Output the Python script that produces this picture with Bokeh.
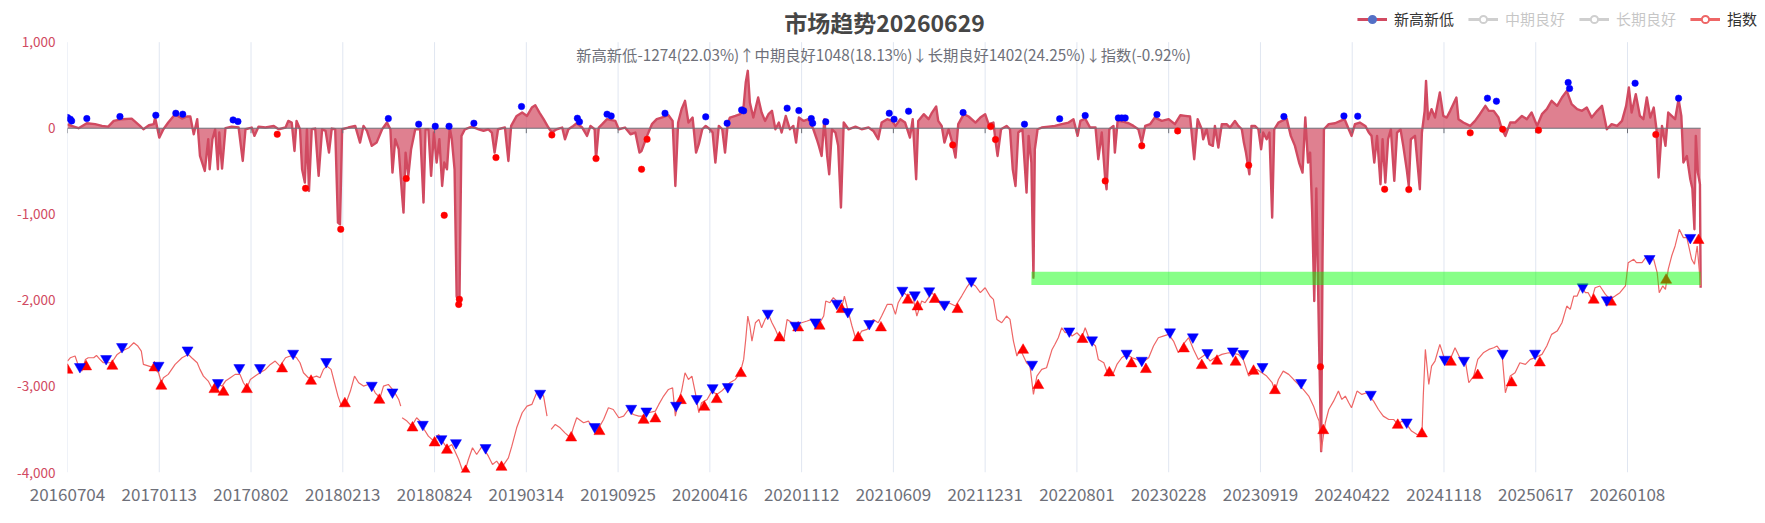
from bokeh.plotting import figure
from bokeh.models import (Range1d, FixedTicker, NumeralTickFormatter, Label,
                          Legend, LegendItem)
from bokeh.embed import file_html
from bokeh.resources import INLINE

NaN = float("nan")

# ---------------- data (x = trading-day index, y = value) ----------------
tick_labels = ["20160704", "20170113", "20170802", "20180213", "20180824",
               "20190314", "20190925", "20200416", "20201112", "20210609",
               "20211231", "20220801", "20230228", "20230919", "20240422",
               "20241118", "20250617", "20260108"]
tick_idx = [0, 133, 266, 399, 532, 665, 798, 931, 1064, 1197, 1330, 1463,
            1596, 1729, 1862, 1995, 2128, 2261]
y_ticks = [1000, 0, -1000, -2000, -3000, -4000]

nhnl_idx = [0, 6, 16, 28, 40, 50, 59, 67, 79, 93, 105, 110, 118, 125, 127, 133, 139, 146, 156, 166, 173, 178, 183, 188, 192, 199, 204, 206, 210, 214, 218, 220, 224, 229, 238, 248, 254, 258, 267, 271, 277, 287, 299, 306, 316, 320, 325, 329, 332, 337, 340, 344, 347, 350, 354, 359, 364, 369, 374, 379, 383, 388, 392, 395,
            398, 407, 417, 424, 429, 434, 441, 448, 456, 463, 468, 471, 475, 480, 485, 487, 490, 494, 498, 504, 511, 516, 519, 523, 527, 531, 535, 539, 543, 546, 550, 554, 557, 561, 564, 568, 571, 576, 586, 596, 603, 610, 615, 619, 624, 634, 639, 643, 651, 659, 666, 673, 678, 684, 690, 697, 702, 709, 717, 721, 726, 733, 738, 746, 753, 758, 764, 766, 770, 775, 782, 794, 799,
            808, 816, 823, 829, 832, 840, 847, 854, 861, 871, 877, 881, 885, 890, 895, 900, 906, 911, 915, 920, 925, 931, 935, 939, 944, 949, 953, 957, 960, 968, 975, 980, 983, 986, 989, 994, 1001, 1006, 1011, 1016, 1021, 1026, 1031, 1035, 1041, 1047, 1052, 1056, 1060, 1067, 1074, 1081, 1086, 1089, 1093, 1097, 1101, 1104, 1108, 1113, 1117, 1121, 1125, 1132, 1142, 1151, 1161, 1168, 1175, 1180, 1188, 1195,
            1200, 1207, 1214, 1221, 1225, 1230, 1233, 1241, 1248, 1253, 1259, 1262, 1267, 1271, 1277, 1283, 1287, 1291, 1299, 1306, 1316, 1323, 1330, 1335, 1342, 1345, 1348, 1353, 1361, 1366, 1370, 1374, 1378, 1384, 1390, 1393, 1397, 1400, 1402, 1406, 1412, 1422, 1431, 1441, 1451, 1458, 1464, 1468, 1475, 1482, 1490, 1494, 1499, 1504, 1506, 1510, 1516, 1518, 1522, 1531, 1538, 1545, 1552, 1557, 1562, 1569, 1576, 1586, 1596, 1605,
            1613, 1620, 1627, 1633, 1638, 1644, 1646, 1651, 1655, 1660, 1663, 1668, 1673, 1680, 1685, 1692, 1697, 1702, 1705, 1708, 1713, 1716, 1721, 1726, 1730, 1733, 1738, 1742, 1746, 1749, 1755, 1760, 1767, 1773, 1779, 1785, 1790, 1794, 1798, 1801, 1804, 1807, 1810, 1814, 1817, 1819, 1821, 1828, 1837, 1845, 1851, 1857, 1861, 1866, 1873, 1881, 1886, 1890, 1894, 1898, 1903, 1906, 1910, 1914, 1918, 1923, 1927, 1932, 1936, 1941, 1944, 1947, 1953, 1960, 1963, 1967, 1969, 1972, 1977, 1982, 1989, 1994, 1999, 2004, 2013,
            2016, 2023, 2033, 2040, 2047, 2055, 2060, 2067, 2074, 2079, 2084, 2091, 2098, 2108, 2115, 2122, 2130, 2137, 2144, 2151, 2159, 2166, 2173, 2180, 2188, 2195, 2202, 2209, 2217, 2224, 2231, 2238, 2246, 2253, 2259, 2263, 2267, 2273, 2279, 2284, 2289, 2294, 2299, 2303, 2306, 2311, 2316, 2320, 2325, 2330, 2335, 2339, 2342, 2347, 2352, 2355, 2358, 2360, 2363, 2366, 2367]
nhnl_val = [47, 27, 0, 58, 47, 27, 19, 85, 105, 112, 27, -12, 35, 47, 124, -109, -12, 66, 163, 112, 136, 136, -70, 105, -322, -496, -128, -477, -128, -12, -477, -50, -469, 0, 19, 8, -380, -12, 8, -89, 19, 8, 27, -12, 8, 85, 66, -264, 85, -12, -477, -632, -12, -729, -12, -4, -554, -12, -31, -283, -4, -12, -1097, -1116,
            -12, 8, 27, -167, 27, -31, -205, -167, -12, 66, -12, -516, -128, -244, -787, -981, -283, -554, -244, -12, -12, -864, -12, -12, -554, -50, -399, -128, -671, -399, -477, 8, -128, -477, -1950, -2066, -89, -12, 19, -12, -31, -12, -50, -283, -12, 8, -380, 27, 143, 182, 143, 240, 267, 182, 105, 8, -50, -12, 8, -128, -12, 27, 58, 8, -89, 27, -12, -360, 8, 47, 105, 85, -12,
            8, -70, -50, -283, -264, -89, 47, 105, 124, 151, 85, -671, 66, 221, 318, 66, 124, -283, -186, -12, 27, -12, -50, -399, 27, -12, -283, 58, 124, 143, 163, 260, 531, 667, 298, 124, 357, 182, 85, 163, 202, -12, 66, -50, 143, -12, 27, -167, 124, 85, 105, -12, -128, -205, -322, 105, -322, -535, -12, -50, -205, -922, 66, -12, 19, -12, 8, -31, -128, 66, 105, 85,
            27, 105, 66, -109, 105, -593, 85, 163, 105, 182, 252, 85, 27, -167, -12, -186, -341, 47, 163, 136, 66, 124, 163, 47, 66, -147, -322, -12, 27, -12, -477, -671, -50, -12, -748, -89, -399, -1736, -244, -12, 8, 19, 27, 47, 66, 105, -89, 85, 112, 8, 8, -360, -50, -593, -709, -12, 27, -283, 85, 74, 58, 27, -12, -167, 27, 47, 124, 85, 105, 47,
            151, 143, 136, -360, 105, -12, -128, -12, -186, -205, 27, -225, 47, 47, 8, 85, 27, -12, -167, -283, -535, 27, 27, -12, -244, -50, -128, -50, -1039, -12, 66, 85, 112, -89, -205, -399, -516, 124, -399, -283, -981, -2008, -700, -2500, -3752, -1500, -12, 47, 58, 85, 105, -12, -89, 47, 66, 27, -50, -89, -399, -89, -651, -128, -632, -128, -12, -612, -50, -12, -205, -477, -671, -128, -89, -709, -50, 202, 550, 105, 221, 124, 415, 143, 124, 202, 357,
            105, 66, 27, 85, 163, 260, 202, 202, 124, -12, -89, 66, 66, 143, 105, 182, 27, 163, 221, 318, 260, 357, 434, 279, 221, 202, 240, 124, 202, 260, -12, 47, 27, 85, 260, 473, 182, 395, 143, 105, 357, 124, 240, -12, -573, 27, -205, 182, 143, 105, 337, 143, -399, -322, -593, -700, -1174, -89, -516, -651, -1853]

index_idx = [0, 4, 11, 16, 21, 26, 30, 38, 42, 47, 52, 59, 64, 72, 79, 89, 96, 102, 107, 110, 118, 125, 132, 136, 139, 146, 156, 166, 175, 180, 188, 192, 197, 204, 209, 214, 219, 224, 229, 236, 243, 250, 255, 260, 265, 272, 279, 287, 294, 301, 308, 316, 323, 328, 332, 337, 342, 349, 354, 361, 366, 371, 376, 382, 387, 392, 397, 403,
             410, 416, 422, 429, 436, 441, 446, 453, 458, 465, 473, 480, 483, 484, 485, 492, 499, 506, 511, 517, 523, 531, 538, 545, 550, 557, 567, 572, 576, 581, 587, 593, 601, 610, 616, 622, 629, 634, 639, 644, 651, 659, 666, 673, 680, 685, 690, 695, 698, 701, 707, 714, 721, 729, 733, 738, 748, 755, 762, 770, 777, 784, 791, 799, 806,
             813, 820, 828, 835, 842, 852, 857, 864, 871, 877, 881, 886, 890, 895, 900, 905, 910, 915, 919, 927, 934, 941, 948, 953, 960, 968, 975, 980, 983, 986, 989, 992, 997, 1002, 1006, 1011, 1016, 1021, 1026, 1031, 1038, 1043, 1050, 1055, 1064, 1072, 1079, 1089, 1096, 1099, 1105, 1110, 1117, 1122, 1126, 1132, 1137, 1142, 1146, 1151, 1159, 1163, 1168, 1175, 1180, 1188, 1195,
             1200, 1204, 1212, 1218, 1224, 1231, 1238, 1243, 1253, 1262, 1270, 1277, 1287, 1296, 1303, 1308, 1316, 1323, 1330, 1337, 1342, 1347, 1354, 1361, 1366, 1371, 1376, 1381, 1390, 1395, 1400, 1405, 1412, 1419, 1427, 1431, 1436, 1441, 1446, 1451, 1456, 1463, 1470, 1475, 1482, 1490, 1494, 1502, 1509, 1516, 1521, 1528, 1535, 1543, 1550, 1557, 1567, 1574, 1581, 1588, 1596, 1603, 1610,
             1617, 1625, 1632, 1639, 1649, 1656, 1663, 1673, 1683, 1697, 1704, 1712, 1724, 1731, 1738, 1746, 1750, 1755, 1762, 1770, 1777, 1784, 1791, 1799, 1806, 1811, 1814, 1817, 1823, 1828, 1835, 1842, 1847, 1852, 1857, 1861, 1869, 1876, 1883, 1893, 1900, 1907, 1915, 1922, 1928, 1934, 1941, 1948, 1956, 1963, 1965, 1968, 1973, 1977, 1982, 1989, 1996, 2002, 2011,
             2018, 2026, 2031, 2038, 2044, 2052, 2060, 2067, 2072, 2079, 2084, 2091, 2098, 2105, 2113, 2120, 2127, 2137, 2144, 2151, 2159, 2166, 2173, 2178, 2183, 2188, 2194, 2200, 2204, 2209, 2214, 2221, 2229, 2236, 2243, 2250, 2258, 2262, 2270, 2274, 2282, 2289, 2299, 2304, 2307, 2312, 2316, 2320, 2325, 2330, 2336, 2342, 2347, 2354, 2358, 2362, 2367]
index_val = [-2705, -2667, -2647, -2764, -2822, -2686, -2667, -2667, -2640, -2686, -2725, -2725, -2725, -2628, -2589, -2550, -2492, -2531, -2589, -2744, -2764, -2783, -2841, -2957, -2899, -2860, -2744, -2667, -2628, -2667, -2725, -2802, -2880, -2938, -3016, -3035, -2977, -2996, -2938, -2899, -2860, -2860, -2957, -3016, -2919, -2880, -2841, -2802, -2744, -2705, -2764, -2667, -2647, -2647, -2667, -2725, -2841, -2899, -2899, -2880, -2899, -2802, -2764, -2802, -2957, -3112, -3229, -3209,
             -3054, -2880, -2957, -2996, -2977, -2996, -3074, -3132, -2996, -2977, -3054, -3151, -3229, NaN, -3364, -3403, -3461, -3364, -3403, -3500, -3578, -3636, -3558, -3655, -3713, -3674, -3849, -3965, -3985, -3849, -3713, -3791, -3694, -3810, -3907, -3868, -3946, -3888, -3830, -3694, -3481, -3306, -3229, -3209, -3074, -3054, -3112, -3345, NaN, -3500, -3442, -3481, -3539, -3597, -3481, -3364, -3422, -3403, -3481, -3481, -3384, -3248, -3268, -3364, -3345,
             -3268, -3326, -3345, -3345, -3306, -3287, -3209, -3112, -3035, -3016, -3345, -3151, -3054, -2841, -2919, -2880, -3074, -3306, -3190, -3151, -3054, -3093, -3054, -3016, -2957, -2919, -2841, -2686, -2453, -2182, -2298, -2473, -2260, -2221, -2318, -2221, -2163, -2260, -2337, -2434, -2473, -2221, -2260, -2279, -2260, -2240, -2221, -2279, -2182, -2008, -2027, -1969, -2027, -2085, -1950, -2143, -2298, -2434, -2434, -2357, -2337, -2279, -2221, -2260, -2182, -2047, -2047,
             -2163, -2027, -1911, -1950, -1911, -2182, -2008, -2027, -1911, -2008, -2105, -2027, -2066, -1950, -1853, -1795, -1833, -1911, -1853, -1950, -1988, -2221, -2260, -2182, -2221, -2473, -2647, -2570, -2725, -2764, -3093, -2880, -2802, -2783, -2570, -2512, -2434, -2318, -2376, -2357, -2415, -2376, -2434, -2318, -2473, -2531, -2686, -2725, -2880, -2841, -2744, -2667, -2628, -2667, -2686, -2725, -2667, -2531, -2434, -2415, -2395, -2473, -2609,
             -2512, -2434, -2570, -2686, -2628, -2705, -2667, -2628, -2609, -2628, -2686, -2880, -2802, -2841, -2880, -2957, -3054, -2919, -2822, -2860, -2919, -2977, -3035, -3112, -3229, -3345, -3403, -3752, -3422, -3268, -3171, -3054, -3151, -3112, -3190, -3248, -3054, -3093, -3074, -3171, -3268, -3345, -3384, -3384, -3442, -3403, -3442, -3519, -3558, -3578, -3112, -2570, -2977, -2764, -2705, -2512, -2686, -2725, -2550,
             -2667, -2705, -2957, -2880, -2686, -2609, -2570, -2550, -2531, -2609, -3074, -2880, -2841, -2725, -2744, -2686, -2667, -2628, -2531, -2395, -2357, -2260, -2066, -2105, -1950, -1950, -1833, -1911, -1911, -1988, -1853, -1833, -1930, -1988, -1950, -1911, -1833, -1562, -1523, -1562, -1562, -1485, -1523, -1678, -1911, -1833, -1872, -1640, -1485, -1368, -1174, -1271, -1271, -1523, -1581, -1368, -1833]

high_dot_idx = [0, 4, 6, 28, 76, 128, 157, 167, 240, 247, 465, 509, 533, 553, 589, 658, 739, 742, 782, 788, 866, 925, 956, 977, 980, 1043, 1060, 1078, 1080, 1099, 1191, 1198, 1219, 1298, 1387, 1438, 1475, 1523, 1528, 1533, 1579, 1763, 1850, 1870, 2058, 2071, 2175, 2177, 2272, 2335]
high_dot_val = [124, 105, 85, 112, 136, 151, 174, 163, 97, 78, 112, 47, 23, 23, 58, 252, 116, 74, 163, 143, 174, 132, 58, 213, 202, 233, 205, 112, 58, 74, 174, 105, 198, 182, 47, 109, 147, 120, 120, 120, 159, 136, 143, 140, 349, 314, 531, 461, 523, 349]
low_dot_idx = [304, 345, 396, 491, 546, 567, 568, 621, 702, 766, 832, 840, 1283, 1338, 1345, 1504, 1557, 1609, 1712, 1816, 1909, 1944, 2033, 2080, 2132, 2302]
low_dot_val = [-70, -698, -1174, -585, -1012, -2047, -1988, -341, -78, -353, -477, -128, -194, 19, -132, -612, -205, -31, -430, -2771, -709, -713, -54, -12, -23, -74]

up_tri_idx = [0, 27, 65, 126, 136, 213, 226, 260, 311, 353, 402, 452, 500, 532, 550, 577, 629, 730, 771, 835, 852, 889, 923, 941, 976, 1032, 1059, 1090, 1122, 1146, 1179, 1218, 1232, 1257, 1290, 1385, 1407, 1471, 1510, 1542, 1563, 1618, 1644, 1666, 1693, 1719, 1750, 1820, 1928, 1963, 2005, 2044, 2093, 2134, 2212, 2237, 2317, 2364]
up_tri_val = [-2810, -2771, -2764, -2783, -2996, -3035, -3066, -3035, -2795, -2938, -3200, -3159, -3481, -3655, -3740, -3985, -3938, -3597, -3523, -3392, -3376, -3163, -3240, -3151, -2849, -2434, -2318, -2298, -2105, -2434, -2318, -1996, -2074, -1988, -2105, -2578, -2988, -2453, -2841, -2736, -2802, -2562, -2756, -2705, -2717, -2822, -3047, -3512, -3450, -3550, -2717, -2872, -2957, -2725, -1996, -2019, -1764, -1302]
down_tri_idx = [18, 56, 79, 132, 174, 218, 249, 279, 327, 375, 441, 471, 515, 542, 563, 606, 685, 764, 817, 839, 882, 912, 935, 957, 1015, 1055, 1084, 1115, 1131, 1162, 1210, 1228, 1249, 1271, 1310, 1398, 1452, 1485, 1535, 1557, 1598, 1631, 1652, 1689, 1704, 1732, 1788, 1889, 1941, 1996, 2024, 2080, 2127, 2196, 2231, 2293, 2352]
down_tri_val = [-2771, -2678, -2539, -2756, -2578, -2957, -2783, -2783, -2616, -2713, -2988, -3066, -3442, -3609, -3655, -3713, -3081, -3469, -3256, -3287, -3221, -3143, -3016, -3004, -2151, -2291, -2252, -2035, -2132, -2271, -1884, -1938, -1891, -2047, -1775, -2744, -2357, -2461, -2616, -2698, -2368, -2426, -2609, -2589, -2620, -2771, -2957, -3093, -3415, -2686, -2698, -2616, -2616, -1845, -1996, -1516, -1271]

band_idx = [1397, 2367]
band_val = [-1822, -1667]

title_text = "市场趋势20260629"
subtitle_text = "新高新低-1274(22.03%)↑中期良好1048(18.13%)↓长期良好1402(24.25%)↓指数(-0.92%)"
legend_names = ["新高新低", "中期良好", "长期良好", "指数"]

# ---------------- layout ----------------
W, H = 1765, 523
LEFT, BOTTOM = 67, 51
X_END = 2461
Y_START, Y_END = -4000, 1484

FONT = "Noto Sans CJK SC"
C_NHNL = "#d14a61"
C_INDEX = "#ee6666"
C_GRID = "#e0e6f1"
C_AXIS = "#6e7079"

p = figure(width=W, height=H, output_backend="svg", toolbar_location=None,
           x_range=Range1d(0, X_END), y_range=Range1d(Y_START, Y_END),
           min_border_left=LEFT, min_border_right=0, min_border_top=0,
           min_border_bottom=BOTTOM, outline_line_color=None, title=None)
p.xgrid.visible = False
p.ygrid.visible = False

# vertical split lines
p.segment(x0=tick_idx, x1=tick_idx, y0=[y_ticks[-1]] * len(tick_idx),
          y1=[y_ticks[0]] * len(tick_idx), line_color=C_GRID, line_width=1)

# area series
p.varea(x=nhnl_idx, y1=[0] * len(nhnl_idx), y2=nhnl_val,
        fill_color=C_NHNL, fill_alpha=0.7)
p.line(nhnl_idx, nhnl_val, line_color=C_NHNL, line_width=2.4, line_join="round")

# zero axis line with ticks
p.segment(x0=[0], x1=[nhnl_idx[-1]], y0=[0], y1=[0], line_color=C_AXIS, line_width=1)
p.segment(x0=tick_idx, x1=tick_idx, y0=[0] * len(tick_idx), y1=[-58] * len(tick_idx),
          line_color=C_AXIS, line_width=1)

# index line
p.line(index_idx, index_val, line_color=C_INDEX, line_width=1.2)

# markers
p.scatter(up_tri_idx, up_tri_val, marker="triangle", size=11, fill_color="red", line_color="red", line_width=0.5)
p.scatter(down_tri_idx, down_tri_val, marker="inverted_triangle", size=11, fill_color="blue", line_color="blue", line_width=0.5)
p.scatter(high_dot_idx, high_dot_val, marker="circle", size=6.5, fill_color="blue", line_color="blue", line_width=0.5)
p.scatter(low_dot_idx, low_dot_val, marker="circle", size=6.5, fill_color="red", line_color="red", line_width=0.5)

# green band
p.quad(left=[band_idx[0]], right=[band_idx[1]], bottom=[band_val[0]], top=[band_val[1]],
       fill_color="#00ff00", fill_alpha=0.47, line_color=None)

# axes
p.yaxis.ticker = FixedTicker(ticks=y_ticks)
p.yaxis.formatter = NumeralTickFormatter(format="0,0")
p.yaxis.axis_line_color = None
p.yaxis.major_tick_line_color = None
p.yaxis.minor_tick_line_color = None
p.yaxis.major_label_text_color = C_NHNL
p.yaxis.major_label_text_font = FONT
p.yaxis.major_label_text_font_size = "13.5px"
p.yaxis.major_label_standoff = 6

p.xaxis.ticker = FixedTicker(ticks=tick_idx)
p.xaxis.major_label_overrides = {t: s for t, s in zip(tick_idx, tick_labels)}
p.xaxis.axis_line_color = None
p.xaxis.major_tick_line_color = None
p.xaxis.minor_tick_line_color = None
p.xaxis.major_label_text_color = C_AXIS
p.xaxis.major_label_text_font = FONT
p.xaxis.major_label_text_font_size = "17px"
p.xaxis.major_label_standoff = 9

# titles
frame_h = H - BOTTOM
p.add_layout(Label(x=884 - LEFT, y=frame_h - 21, x_units="screen", y_units="screen",
                   text=title_text, text_font=FONT, text_font_size="23px",
                   text_font_style="bold", text_color="#464646",
                   text_align="center", text_baseline="middle"))
p.add_layout(Label(x=883 - LEFT, y=frame_h - 53, x_units="screen", y_units="screen",
                   text=subtitle_text, text_font=FONT, text_font_size="15.3px",
                   text_color="#6e7079", text_align="center", text_baseline="middle"))

# legend (dummy renderers holding a single NaN point, never drawn in the frame)
def dummy_line(color):
    return p.line([NaN], [NaN], line_color=color, line_width=3)

def dummy_dot(fill, line):
    return p.scatter([NaN], [NaN], marker="circle", size=8, fill_color=fill,
                     line_color=line, line_width=2)

l1, c1 = dummy_line(C_NHNL), dummy_dot("#5470c6", "#5470c6")
l2, c2 = dummy_line("#555555"), dummy_dot("white", "#555555")
l3, c3 = dummy_line("#555555"), dummy_dot("white", "#555555")
l4, c4 = dummy_line(C_INDEX), dummy_dot("white", C_INDEX)
for r in (l2, c2, l3, c3):
    r.visible = False

legend = Legend(items=[LegendItem(label=legend_names[0], renderers=[l1, c1]),
                       LegendItem(label=legend_names[1], renderers=[l2, c2]),
                       LegendItem(label=legend_names[2], renderers=[l3, c3]),
                       LegendItem(label=legend_names[3], renderers=[l4, c4])],
                orientation="horizontal", location="top_right", click_policy="hide",
                glyph_width=30, glyph_height=18, label_standoff=7, spacing=14,
                padding=0, margin=8, border_line_color=None, background_fill_alpha=0,
                label_text_font=FONT, label_text_font_size="15px", label_text_color="#333333",
                inactive_fill_color="white", inactive_fill_alpha=0.72)
p.add_layout(legend)

open("out.html", "w").write(file_html(p, INLINE))
